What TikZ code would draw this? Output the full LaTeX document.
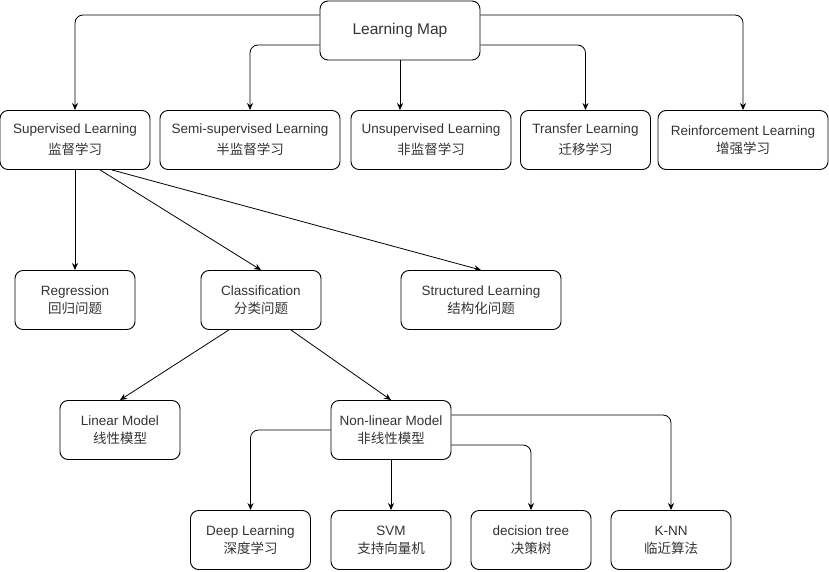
\documentclass[tikz,border=0pt]{standalone}
\usepackage{fontspec}
\setmainfont{Liberation Sans}
\newfontfamily\cjk{Noto Sans CJK SC}
\usetikzlibrary{arrows.meta, positioning}
\tikzset{>={Stealth[length=7pt,width=6pt]}}
\tikzset{
  box/.style={draw, rounded corners=8pt, line width=0.9pt, minimum height=59pt,
    text=black!80, align=center, inner sep=2pt,
    font=\fontsize{13.5}{18}\selectfont},
  wide/.style={font=\fontsize{13.5}{21}\selectfont},
  link/.style={->, line width=0.8pt, rounded corners=8pt}
}

\begin{document}
\begin{tikzpicture}[x=1pt, y=-1pt]
		\useasboundingbox (0,0) rectangle (829,572);
		% root
		\node[box, minimum width=160pt, font=\fontsize{15.5}{18}\selectfont] (map) at (400,30.5) {Learning Map};
		% learning types
		\node[box, wide, minimum width=150pt] (sup) at (75,140) {Supervised Learning\\{\cjk 监督学习}};
		\node[box, wide, minimum width=180pt] (semi) at (250,140) {Semi-supervised Learning\\{\cjk 半监督学习}};
		\node[box, wide, minimum width=160pt] (unsup) at (431,140) {Unsupervised Learning\\{\cjk 非监督学习}};
		\node[box, wide, minimum width=130pt] (transfer) at (585.5,140) {Transfer Learning\\{\cjk 迁移学习}};
		\node[box, minimum width=170pt] (reinf) at (743,140) {Reinforcement Learning\\{\cjk 增强学习}};
		% tasks
		\node[box, minimum width=120pt] (reg) at (75,300) {Regression\\{\cjk 回归问题}};
		\node[box, minimum width=120pt] (cls) at (261,300) {Classification\\{\cjk 分类问题}};
		\node[box, minimum width=160pt] (struct) at (481,300) {Structured Learning\\{\cjk 结构化问题}};
		% models
		\node[box, minimum width=120pt] (lin) at (120,430) {Linear Model\\{\cjk 线性模型}};
		\node[box, minimum width=120pt] (nonlin) at (391,430) {Non-linear Model\\{\cjk 非线性模型}};
		% methods
		\node[box, minimum width=120pt] (deep) at (250.5,540) {Deep Learning\\{\cjk 深度学习}};
		\node[box, minimum width=120pt] (svm) at (391,540) {SVM\\{\cjk 支持向量机}};
		\node[box, minimum width=120pt] (tree) at (531,540) {decision tree\\{\cjk 决策树}};
		\node[box, minimum width=120pt] (knn) at (671,540) {K-NN\\{\cjk 临近算法}};

		\draw[link] ([yshift=15.5pt]map.west) -| (sup.north);
		\draw[link] ([yshift=-14.5pt]map.west) -| (semi.north);
		\draw[link] (map.south) -- (map.south |- unsup.north);
		\draw[link] ([yshift=-14.5pt]map.east) -| (transfer.north);
		\draw[link] ([yshift=15.5pt]map.east) -| (reinf.north);

		\draw[link] (sup.south) -- (reg.north);
		\draw[link] (sup.-50) -- (cls.north);
		\draw[link] (sup.-39) -- (struct.north);

		\draw[link] (cls.-137) -- (lin.north);
		\draw[link] (cls.-45) -- (nonlin.north);

		\draw[link] (nonlin.west) -| (deep.north);
		\draw[link] (nonlin.south) -- (svm.north);
		\draw[link] ([yshift=-15pt]nonlin.east) -| (tree.north);
		\draw[link] ([yshift=15pt]nonlin.east) -| (knn.north);
		\end{tikzpicture}
\end{document}
